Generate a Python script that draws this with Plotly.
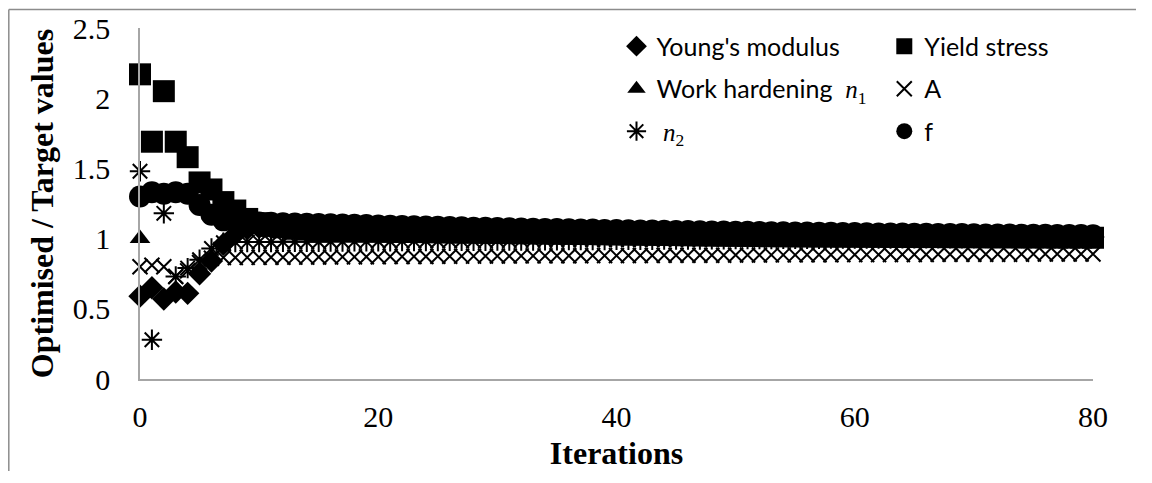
import plotly.graph_objects as go

# iteration index
iterations = list(range(81))

young_modulus = [0.59, 0.65, 0.57, 0.62, 0.61, 0.75, 0.84, 0.96, 1.03, 1.07,
                 1.08, 1.08, 1.08, 1.075, 1.07, 1.068, 1.066, 1.064, 1.062, 1.06,
                 1.058, 1.056, 1.055, 1.054, 1.053, 1.052, 1.051, 1.05, 1.049, 1.048,
                 1.047, 1.046, 1.045, 1.044, 1.043, 1.042, 1.041, 1.04, 1.039, 1.038,
                 1.037, 1.036, 1.035, 1.034, 1.033, 1.032, 1.031, 1.03, 1.029, 1.028,
                 1.027, 1.026, 1.025, 1.024, 1.024, 1.023, 1.022, 1.021, 1.021, 1.02,
                 1.02, 1.019, 1.019, 1.018, 1.018, 1.017, 1.017, 1.016, 1.016, 1.015,
                 1.015, 1.014, 1.014, 1.014, 1.013, 1.013, 1.013, 1.012, 1.012, 1.012, 1.012]

yield_stress = [2.17, 1.69, 2.05, 1.69, 1.58, 1.40, 1.35, 1.26, 1.20, 1.14,
                1.11, 1.09, 1.08, 1.07, 1.065, 1.06, 1.058, 1.056, 1.054, 1.052,
                1.05, 1.049, 1.048, 1.047, 1.046, 1.045, 1.044, 1.043, 1.042, 1.041,
                1.04, 1.039, 1.038, 1.037, 1.036, 1.035, 1.034, 1.033, 1.032, 1.031,
                1.03, 1.029, 1.028, 1.027, 1.026, 1.025, 1.024, 1.023, 1.022, 1.021,
                1.02, 1.019, 1.018, 1.017, 1.017, 1.016, 1.016, 1.015, 1.015, 1.014,
                1.014, 1.013, 1.013, 1.012, 1.012, 1.011, 1.011, 1.011, 1.01, 1.01,
                1.01, 1.009, 1.009, 1.009, 1.008, 1.008, 1.008, 1.007, 1.007, 1.007, 1.006]

work_hardening_n1 = [1.00, 1.32, 1.31, 1.32, 1.31, 1.24, 1.17, 1.13, 1.12, 1.11,
                     1.105, 1.10, 1.098, 1.096, 1.094, 1.092, 1.09, 1.088, 1.086, 1.084,
                     1.082, 1.08, 1.078, 1.076, 1.075, 1.073, 1.072, 1.07, 1.069, 1.067,
                     1.066, 1.065, 1.063, 1.062, 1.061, 1.06, 1.058, 1.057, 1.056, 1.055,
                     1.054, 1.053, 1.052, 1.05, 1.049, 1.048, 1.047, 1.046, 1.045, 1.044,
                     1.043, 1.042, 1.041, 1.04, 1.039, 1.038, 1.037, 1.036, 1.035, 1.034,
                     1.033, 1.033, 1.032, 1.031, 1.03, 1.03, 1.029, 1.028, 1.028, 1.027,
                     1.026, 1.026, 1.025, 1.025, 1.024, 1.024, 1.023, 1.023, 1.022, 1.022, 1.021]

param_a = [0.80, 0.81, 0.80, 0.73, 0.77, 0.83, 0.86, 0.865, 0.865, 0.866,
           0.866, 0.867, 0.867, 0.868, 0.868, 0.869, 0.869, 0.87, 0.87, 0.871,
           0.871, 0.872, 0.872, 0.873, 0.873, 0.874, 0.874, 0.875, 0.875, 0.876,
           0.876, 0.876, 0.877, 0.877, 0.877, 0.878, 0.878, 0.878, 0.879, 0.879,
           0.879, 0.88, 0.88, 0.88, 0.881, 0.881, 0.881, 0.882, 0.882, 0.882,
           0.883, 0.883, 0.883, 0.884, 0.884, 0.884, 0.885, 0.885, 0.885, 0.886,
           0.886, 0.886, 0.886, 0.887, 0.887, 0.887, 0.887, 0.888, 0.888, 0.888,
           0.888, 0.889, 0.889, 0.889, 0.889, 0.89, 0.89, 0.89, 0.89, 0.89, 0.89]

n2_values = [1.48, 0.28, 1.18, 0.73, 0.79, 0.85, 0.93, 0.97, 0.975, 0.975,
             0.976, 0.976, 0.977, 0.977, 0.978, 0.978, 0.979, 0.979, 0.98, 0.98,
             0.981, 0.981, 0.982, 0.982, 0.983, 0.983, 0.984, 0.984, 0.985, 0.985,
             0.986, 0.986, 0.987, 0.987, 0.988, 0.988, 0.989, 0.989, 0.99, 0.99,
             0.991, 0.991, 0.992, 0.992, 0.993, 0.993, 0.994, 0.994, 0.995, 0.995,
             0.996, 0.996, 0.997, 0.997, 0.998, 0.998, 0.999, 0.999, 1.0, 1.0,
             1.0, 1.001, 1.001, 1.001, 1.002, 1.002, 1.002, 1.003, 1.003, 1.003,
             1.003, 1.004, 1.004, 1.004, 1.004, 1.005, 1.005, 1.005, 1.005, 1.005, 1.005]

f_values = [1.30, 1.33, 1.32, 1.33, 1.32, 1.24, 1.17, 1.13, 1.12, 1.12,
            1.115, 1.113, 1.11, 1.108, 1.106, 1.104, 1.102, 1.10, 1.098, 1.096,
            1.094, 1.092, 1.09, 1.088, 1.086, 1.084, 1.082, 1.08, 1.078, 1.077,
            1.075, 1.074, 1.072, 1.071, 1.069, 1.068, 1.066, 1.065, 1.064, 1.062,
            1.061, 1.06, 1.058, 1.057, 1.056, 1.055, 1.054, 1.052, 1.051, 1.05,
            1.049, 1.048, 1.047, 1.046, 1.045, 1.044, 1.043, 1.042, 1.041, 1.04,
            1.039, 1.038, 1.037, 1.036, 1.036, 1.035, 1.034, 1.033, 1.032, 1.032,
            1.031, 1.03, 1.029, 1.029, 1.028, 1.027, 1.027, 1.026, 1.025, 1.025, 1.024]

x_ticks = [0, 20, 40, 60, 80]
y_ticks = [0, 0.5, 1, 1.5, 2, 2.5]

MATH = "font-family:'Liberation Serif', serif"
name_n1 = "Work hardening  <span style=\"%s\"><i>n</i><sub>1</sub></span>" % MATH
name_n2 = " <span style=\"%s\"><i>n</i><sub>2</sub></span>" % MATH

# (name, values, symbol, size, legend)
series = [
    ("Young's modulus", young_modulus, "diamond", 18, "legend"),
    ("Yield stress", yield_stress, "square", 22, "legend2"),
    (name_n1, work_hardening_n1, "triangle-up", 18, "legend"),
    ("A", param_a, "x-thin-open", 15, "legend2"),
    (name_n2, n2_values, "asterisk-open", 17, "legend"),
    ("f", f_values, "circle", 22, "legend2"),
]

fig = go.Figure()
for i, (name, vals, symbol, size, leg) in enumerate(series):
    fig.add_trace(
        go.Scatter(
            x=iterations,
            y=vals,
            mode="markers",
            name=name,
            legend=leg,
            legendgroup="g%d" % i,
            cliponaxis=False,
            marker=dict(
                symbol=symbol,
                size=size,
                color="black",
                line=dict(color="black", width=2 if "open" in symbol else 0),
            ),
        )
    )

legend_style = dict(
    font=dict(family="Lato, 'Open Sans', sans-serif", size=25, color="black"),
    bgcolor="rgba(0,0,0,0)",
    tracegroupgap=7,
    itemsizing="trace",
    xanchor="left",
    yanchor="top",
)

# the page body has an 8px margin; keep the figure inside the window
W, H = 1128, 463
L, R, T, B = 132, 43, 20, 92
pw, ph = W - L - R, H - T - B

# chart frame: only its top and left edges fall inside the window
frame_left = (0.8 - L) / pw
frame_top = (ph + T - 1.5) / ph
frame_line = dict(color="#8c8c8c", width=1.5)

fig.update_layout(
    width=W,
    height=H,
    plot_bgcolor="white",
    paper_bgcolor="white",
    margin=dict(l=L, r=R, t=T, b=B),
    showlegend=True,
    legend=dict(x=0.5, y=1.013, **legend_style),
    legend2=dict(x=0.781, y=1.013, **legend_style),
    font=dict(family="'Liberation Serif', 'Times New Roman', serif", color="black"),
    shapes=[
        dict(type="line", xref="paper", yref="paper", x0=frame_left, x1=(W + 20 - L) / pw,
             y0=frame_top, y1=frame_top, line=frame_line, layer="below"),
        dict(type="line", xref="paper", yref="paper", x0=frame_left, x1=frame_left,
             y0=-(B + 20) / ph, y1=frame_top, line=frame_line, layer="below"),
    ],
)

fig.update_xaxes(
    range=[0, 80],
    tickvals=x_ticks,
    automargin=False,
    showgrid=False,
    zeroline=False,
    showline=True,
    linecolor="#a6a6a6",
    linewidth=1.5,
    ticks="",
    ticklabelstandoff=10,
    tickfont=dict(size=30),
    title=dict(text="<b>Iterations</b>", font=dict(size=32), standoff=15),
)
fig.update_yaxes(
    range=[0, 2.5],
    tickvals=y_ticks,
    automargin=False,
    showgrid=False,
    zeroline=False,
    showline=True,
    linecolor="#a6a6a6",
    linewidth=1.5,
    ticks="",
    ticklabelstandoff=22,
    tickfont=dict(size=30),
    title=dict(text="<b>Optimised / Target values</b>", font=dict(size=32), standoff=10),
)

fig.write_html("out.html")
